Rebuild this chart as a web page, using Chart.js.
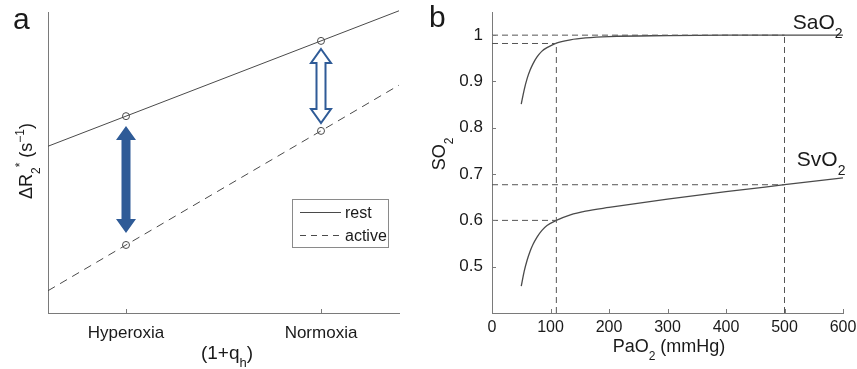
<!DOCTYPE html>
<html>
<head>
<meta charset="utf-8">
<script src="https://cdn.jsdelivr.net/npm/chart.js@4.4.1/dist/chart.umd.min.js"></script>
<style>
  body { margin: 0; background: #fff; }
  #wrap { position: relative; width: 857px; height: 369px; }
  canvas { position: absolute; top: 0; }
</style>
</head>
<body>
<div id="wrap">
  <canvas id="panelA" width="430" height="369" style="left:0"></canvas>
  <canvas id="panelB" width="427" height="369" style="left:430px"></canvas>
</div>
<script>
// panel a: schematic dR2* against (1+qh), arbitrary units
const condLabels = ['Hyperoxia', 'Normoxia']
const condX = [0, 1]
const lineX = [-0.4, 0, 1, 1.4]
const restR2 = [5.54, 6.54, 9.04, 10.04]
const activeR2 = [0.74, 2.26, 6.05, 7.57]
const markerRadius = [0, 3.5, 3.5, 0]
const arrowTop = [6.21, 8.77]
const arrowBottom = [2.66, 6.31]
const arrowFilled = [true, false]

// panel b: saturation curves
const pao2 = [50, 55, 60, 65, 70, 77, 85, 94, 110, 134, 160, 200, 300, 400, 500, 600]
const sao2 = [0.851, 0.882, 0.906, 0.924, 0.938, 0.953, 0.965, 0.973, 0.983, 0.990, 0.994, 0.997, 0.999, 1.0, 1.0, 1.0]
const svo2 = [0.458, 0.490, 0.514, 0.533, 0.548, 0.564, 0.578, 0.589, 0.600, 0.612, 0.620, 0.628, 0.646, 0.662, 0.677, 0.692]
const xTicksB = [0, 100, 200, 300, 400, 500, 600]
const yTicksB = [0.5, 0.6, 0.7, 0.8, 0.9, 1]
// dashed guide lines: horizontal (level, end x) and vertical (x, end level)
const guideH = [1.0, 0.982, 0.677, 0.6]
const guideHEnd = [500, 110, 500, 110]
const guideV = [110, 500]
const guideVEnd = [0.982, 1.0]

const FONT = "'Liberation Sans', Arial, sans-serif"
const TEXT = '#1a1a1a'
const AXIS = '#7a7a7a'
const CURVE = '#4a4a4a'
const ARROW = '#2f5b97'

// draws text made of [string, kind] parts, kind '' | 'sub' | 'sup'
function drawRich (ctx, parts, x, y, size, align, rotate) {
  ctx.save()
  ctx.translate(x, y)
  if (rotate) ctx.rotate(-Math.PI / 2)
  ctx.fillStyle = TEXT
  ctx.textBaseline = 'alphabetic'
  ctx.textAlign = 'left'
  const fontOf = k => `${k ? Math.round(size * 0.68) : size}px ${FONT}`
  const widths = parts.map(([t, k]) => { ctx.font = fontOf(k); return ctx.measureText(t).width })
  const total = widths.reduce((a, b) => a + b, 0)
  let cx = align === 'center' ? -total / 2 : align === 'right' ? -total : 0
  parts.forEach(([t, k], i) => {
    ctx.font = fontOf(k)
    const dy = k === 'sub' ? size * 0.42 : k === 'sup' ? -size * 0.42 : 0
    ctx.fillText(t, cx, dy)
    cx += widths[i]
  })
  ctx.restore()
}

function drawArrow (ctx, x, yTop, yBot, filled) {
  const hw = 10
  const hl = 14
  const sw = 4.5
  ctx.save()
  ctx.beginPath()
  ctx.moveTo(x, yTop)
  ctx.lineTo(x + hw, yTop + hl)
  ctx.lineTo(x + sw, yTop + hl)
  ctx.lineTo(x + sw, yBot - hl)
  ctx.lineTo(x + hw, yBot - hl)
  ctx.lineTo(x, yBot)
  ctx.lineTo(x - hw, yBot - hl)
  ctx.lineTo(x - sw, yBot - hl)
  ctx.lineTo(x - sw, yTop + hl)
  ctx.lineTo(x - hw, yTop + hl)
  ctx.closePath()
  if (filled) {
    ctx.fillStyle = ARROW
    ctx.fill()
  } else {
    ctx.fillStyle = '#fff'
    ctx.fill()
    ctx.lineWidth = 2
    ctx.strokeStyle = ARROW
    ctx.stroke()
  }
  ctx.restore()
}

const panelAExtras = {
  id: 'panelAExtras',
  afterDraw (chart) {
    const { ctx, chartArea, scales: { x, y } } = chart
    // inward ticks
    ctx.save()
    ctx.strokeStyle = AXIS
    ctx.lineWidth = 1
    condX.forEach(v => {
      const px = Math.round(x.getPixelForValue(v)) + 0.5
      ctx.beginPath()
      ctx.moveTo(px, chartArea.bottom)
      ctx.lineTo(px, chartArea.bottom - 4)
      ctx.stroke()
    })
    ctx.restore()

    condX.forEach((v, i) => {
      drawArrow(ctx, x.getPixelForValue(v), y.getPixelForValue(arrowTop[i]),
        y.getPixelForValue(arrowBottom[i]), arrowFilled[i])
    })

    // legend box
    const bx = chartArea.right - 107
    const by = chartArea.bottom - 114
    ctx.save()
    ctx.fillStyle = '#fff'
    ctx.fillRect(bx, by, 96, 48)
    ctx.strokeStyle = '#8a8a8a'
    ctx.lineWidth = 1
    ctx.strokeRect(bx + 0.5, by + 0.5, 96, 48)
    ctx.strokeStyle = CURVE
    ctx.lineWidth = 1
    ctx.beginPath()
    ctx.moveTo(bx + 8, by + 13.5)
    ctx.lineTo(bx + 49, by + 13.5)
    ctx.stroke()
    ctx.setLineDash([6, 5])
    ctx.beginPath()
    ctx.moveTo(bx + 8, by + 36.5)
    ctx.lineTo(bx + 49, by + 36.5)
    ctx.stroke()
    ctx.restore()
    drawRich(ctx, [['rest', '']], bx + 53, by + 19, 16, 'left')
    drawRich(ctx, [['active', '']], bx + 53, by + 42, 16, 'left')

    drawRich(ctx, [['\u0394R', ''], ['2', 'sub'], ['*', 'sup'], [' (s', ''], ['\u22121', 'sup'], [')', '']], 32, 161, 18, 'center', true)
    drawRich(ctx, [['(1+q', ''], ['h', 'sub'], [')', '']], 227, 359, 19, 'center')
    drawRich(ctx, [['a', '']], 13, 29, 30, 'left')
  }
}

const panelBExtras = {
  id: 'panelBExtras',
  afterDraw (chart) {
    const { ctx, chartArea, scales: { x, y } } = chart
    ctx.save()
    ctx.strokeStyle = AXIS
    ctx.lineWidth = 1
    xTicksB.forEach(v => {
      const px = Math.round(x.getPixelForValue(v)) + 0.5
      ctx.beginPath()
      ctx.moveTo(px, chartArea.bottom)
      ctx.lineTo(px, chartArea.bottom - 4)
      ctx.stroke()
    })
    yTicksB.forEach(v => {
      const py = Math.round(y.getPixelForValue(v)) + 0.5
      ctx.beginPath()
      ctx.moveTo(chartArea.left, py)
      ctx.lineTo(chartArea.left + 4, py)
      ctx.stroke()
    })
    ctx.restore()

    drawRich(ctx, [['SaO', ''], ['2', 'sub']], x.getPixelForValue(514), y.getPixelForValue(1.013), 21, 'left')
    drawRich(ctx, [['SvO', ''], ['2', 'sub']], x.getPixelForValue(521), y.getPixelForValue(0.718), 21, 'left')
    drawRich(ctx, [['SO', ''], ['2', 'sub']], 15, 154, 18, 'center', true)
    drawRich(ctx, [['PaO', ''], ['2', 'sub'], [' (mmHg)', '']], 239, 352, 18, 'center')
    drawRich(ctx, [['b', '']], -1, 27, 30, 'left')
  }
}

new Chart(document.getElementById('panelA'), {
  type: 'line',
  data: {
    datasets: [
      {
        label: 'rest',
        data: lineX.map((v, i) => ({ x: v, y: restR2[i] })),
        borderColor: CURVE,
        borderWidth: 1,
        pointRadius: markerRadius,
        pointBackgroundColor: 'rgba(0,0,0,0)',
        pointBorderColor: CURVE,
        pointBorderWidth: 1,
        clip: false
      },
      {
        label: 'active',
        data: lineX.map((v, i) => ({ x: v, y: activeR2[i] })),
        borderColor: CURVE,
        borderWidth: 1,
        borderDash: [8, 6],
        pointRadius: markerRadius,
        pointBackgroundColor: 'rgba(0,0,0,0)',
        pointBorderColor: CURVE,
        pointBorderWidth: 1,
        clip: false
      }
    ]
  },
  options: {
    responsive: false,
    animation: false,
    layout: { padding: { top: 12, right: 31, left: 0, bottom: 0 } },
    plugins: { legend: { display: false }, tooltip: { enabled: false } },
    scales: {
      x: {
        type: 'linear',
        min: -0.4,
        max: 1.4,
        afterBuildTicks: axis => { axis.ticks = condX.map(v => ({ value: v })) },
        afterFit: axis => { axis.height = 56; axis.paddingLeft = 0; axis.paddingRight = 0 },
        grid: { display: false, drawTicks: false },
        border: { color: AXIS, width: 1 },
        ticks: {
          font: { family: FONT, size: 17 },
          color: TEXT,
          padding: 10,
          maxRotation: 0,
          callback: v => condLabels[condX.indexOf(v)]
        }
      },
      y: {
        min: 0,
        max: 10,
        afterFit: axis => { axis.width = 48 },
        grid: { display: false, drawTicks: false },
        border: { color: AXIS, width: 1 },
        ticks: { display: false }
      }
    }
  },
  plugins: [panelAExtras]
})

const guideSets = [
  ...guideH.map((lv, i) => [{ x: 0, y: lv }, { x: guideHEnd[i], y: lv }]),
  ...guideV.map((xv, i) => [{ x: xv, y: 0.4 }, { x: xv, y: guideVEnd[i] }])
].map(pts => ({
  data: pts,
  borderColor: '#555',
  borderWidth: 1,
  borderDash: [6, 4],
  pointRadius: 0
}))

new Chart(document.getElementById('panelB'), {
  type: 'line',
  data: {
    datasets: [
      ...guideSets,
      {
        label: 'SaO2',
        data: pao2.map((v, i) => ({ x: v, y: sao2[i] })),
        borderColor: CURVE,
        borderWidth: 1.3,
        pointRadius: 0,
        cubicInterpolationMode: 'monotone'
      },
      {
        label: 'SvO2',
        data: pao2.map((v, i) => ({ x: v, y: svo2[i] })),
        borderColor: CURVE,
        borderWidth: 1.3,
        pointRadius: 0,
        cubicInterpolationMode: 'monotone'
      }
    ]
  },
  options: {
    responsive: false,
    animation: false,
    layout: { padding: { top: 12, right: 14, left: 0, bottom: 0 } },
    plugins: { legend: { display: false }, tooltip: { enabled: false } },
    scales: {
      x: {
        type: 'linear',
        min: 0,
        max: 600,
        afterBuildTicks: axis => { axis.ticks = xTicksB.map(v => ({ value: v })) },
        afterFit: axis => { axis.height = 56; axis.paddingLeft = 0; axis.paddingRight = 0 },
        grid: { display: false, drawTicks: false },
        border: { color: AXIS, width: 1 },
        ticks: { font: { family: FONT, size: 16 }, color: TEXT, padding: 5, maxRotation: 0, callback: v => String(v) }
      },
      y: {
        min: 0.4,
        max: 1.05,
        afterBuildTicks: axis => { axis.ticks = yTicksB.map(v => ({ value: v })) },
        afterFit: axis => { axis.width = 62; axis.paddingTop = 0; axis.paddingBottom = 0 },
        grid: { display: false, drawTicks: false },
        border: { color: AXIS, width: 1 },
        ticks: { font: { family: FONT, size: 17 }, color: TEXT, padding: 9, callback: v => String(Math.round(v * 10) / 10) }
      }
    }
  },
  plugins: [panelBExtras]
})
</script>
</body>
</html>
